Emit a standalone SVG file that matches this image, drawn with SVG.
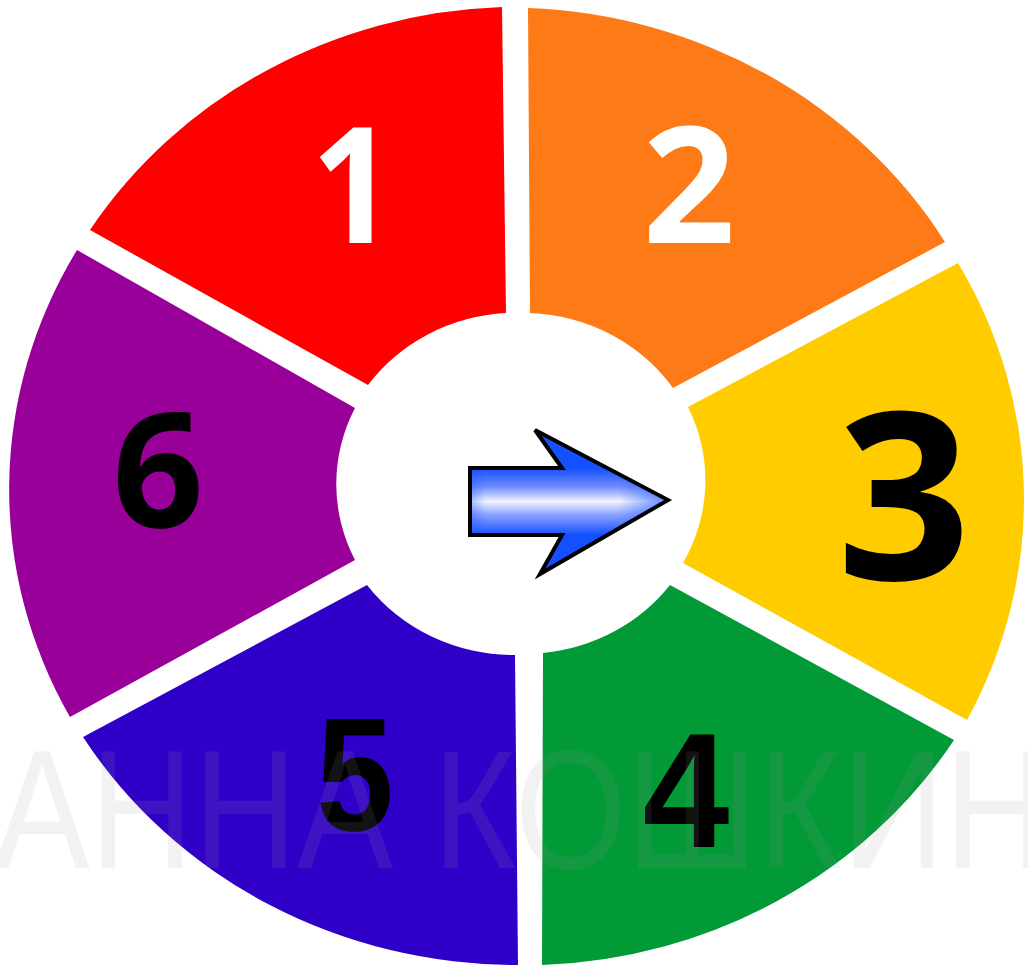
<svg xmlns="http://www.w3.org/2000/svg" width="1028" height="969" viewBox="0 0 1028 969">
  <style>
    .num { font-family: "Open Sans", "Noto Sans", "DejaVu Sans", sans-serif; font-weight: 700; text-anchor: middle; }
    .narrow { font-family: "Liberation Sans", Arial, sans-serif; font-weight: 700; text-anchor: middle; }
    .wm { font-family: "Liberation Sans", Arial, sans-serif; font-size: 168px; fill: #999999; opacity: 0.12; }
  </style>
  <defs>
    <linearGradient id="shine" gradientUnits="userSpaceOnUse" x1="0" y1="468" x2="0" y2="535">
      <stop offset="0" stop-color="#1450ff"/>
      <stop offset="0.28" stop-color="#6f8cff"/>
      <stop offset="0.5" stop-color="#f2f4ff"/>
      <stop offset="0.7" stop-color="#8aa0ff"/>
      <stop offset="1" stop-color="#1450ff"/>
    </linearGradient>
    <linearGradient id="fade" gradientUnits="userSpaceOnUse" x1="470" y1="0" x2="668" y2="0">
      <stop offset="0" stop-color="#1450ff" stop-opacity="0.35"/>
      <stop offset="0.08" stop-color="#1450ff" stop-opacity="0"/>
      <stop offset="0.75" stop-color="#1450ff" stop-opacity="0"/>
      <stop offset="1" stop-color="#1450ff" stop-opacity="0.65"/>
    </linearGradient>
  </defs>
  <rect width="1028" height="969" fill="#ffffff"/>

  <g id="seg1">
    <path d="M90,230 A509,480 0 0 1 502,7 L506,313 A182,172 0 0 0 368,385 Z" fill="#fe0000"/>
    <text class="num" transform="translate(353,243) scale(0.9,1)" font-size="162" fill="#ffffff">1</text>
  </g>
  <g id="seg2">
    <path d="M528,8 A509,480 0 0 1 945,242 L673,388 A182,172 0 0 0 530,313 Z" fill="#fd7a17"/>
    <text class="num" x="689" y="243" font-size="162" fill="#ffffff">2</text>
  </g>
  <g id="seg3">
    <path d="M958,263 A509,480 0 0 1 967,720 L683,563 A182,172 0 0 0 688,407 Z" fill="#ffcc00"/>
    <text class="num" x="904" y="580" font-size="234" fill="#000000">3</text>
  </g>
  <g id="seg4">
    <path d="M954,740 A509,480 0 0 1 542,965 L543,653 A182,172 0 0 0 670,585 Z" fill="#029a36"/>
    <text class="narrow" transform="translate(686,847) scale(0.95,1)" font-size="164" fill="#000000">4</text>
  </g>
  <g id="seg5">
    <path d="M518,965 A509,480 0 0 1 83,737 L367,585 A182,172 0 0 0 515,655 Z" fill="#3100c8"/>
    <text class="narrow" transform="translate(355,830) scale(0.86,1)" font-size="162" fill="#000000">5</text>
  </g>
  <g id="seg6">
    <path d="M70,717 A509,480 0 0 1 77,250 L355,408 A182,172 0 0 0 355,560 Z" fill="#990099"/>
    <text class="num" x="158" y="527" font-size="160" fill="#000000">6</text>
  </g>

  <g id="arrow">
    <path d="M470,468 L562,468 L535,430 L668,500 L540,574 L562,535 L470,535 Z" fill="url(#shine)" stroke="#000000" stroke-width="4" stroke-linejoin="miter"/>
    <path d="M472,470 L564,470 L539,434 L664,500 L544,570 L564,533 L472,533 Z" fill="url(#fade)"/>
  </g>

  <text class="wm" x="-6" y="868" textLength="1150" lengthAdjust="spacingAndGlyphs">АННА КОШКИНА</text>
</svg>
